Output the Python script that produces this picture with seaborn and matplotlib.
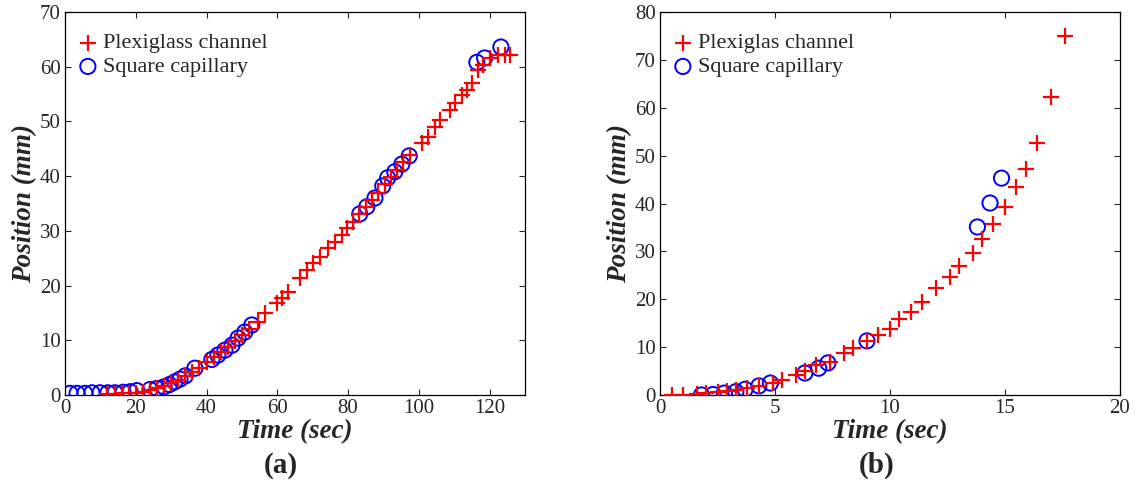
import numpy as np
import pandas as pd
import matplotlib
matplotlib.use("Agg")
import matplotlib.pyplot as plt
import seaborn as sns

# ---- panel (a) data ----
a_plexi_t = [12, 14, 16, 18, 20, 22, 24, 26, 28, 30, 32, 34, 36, 38, 40, 42, 44, 46, 48, 50,
             52, 54.5, 56.5, 60, 61.3, 63, 66.4, 68.4, 70.1, 72, 74.3, 76.3, 78.2, 79.7, 81.4,
             83.2, 85, 86.8, 88.5, 90.3, 92, 93.8, 95.6, 97.5, 100.8, 102.5, 104.5, 105.9,
             108.8, 110.2, 112.1, 113.6, 115, 116.7, 118.1, 120, 122.3, 124.3, 125.7]
a_plexi_y = [0.2, 0.2, 0.3, 0.3, 0.4, 0.6, 0.9, 1.3, 1.7, 2.2, 2.8, 3.4, 4.2, 5.0, 6.0, 6.9, 7.8,
             8.8, 9.8, 11.0, 12.1, 13.3, 15.0, 16.8, 17.7, 18.8, 21.4, 22.9, 24.1, 25.2, 26.9,
             28.0, 29.2, 30.5, 31.6, 33.0, 34.3, 35.6, 37.0, 38.5, 39.8, 41.2, 42.5, 43.9, 46.1,
             47.2, 49.0, 50.3, 52.1, 53.4, 54.8, 55.8, 57.0, 59.4, 60.3, 61.6, 62.2, 62.2, 62.2]
a_cap_t = [1.4, 3.4, 5.6, 7.6, 9.9, 12.1, 14.1, 16.4, 18.4, 20.3, 24, 26, 28, 29.5, 31, 32.5,
           34, 36.7, 41.5, 43.2, 45.2, 47.2, 48.9, 50.8, 52.8,
           83.3, 85.3, 87.6, 89.8, 91.2, 93.2, 95.2, 97.3, 116.4, 118.6, 123.2]
a_cap_y = [0.3, 0.3, 0.3, 0.4, 0.4, 0.4, 0.4, 0.5, 0.6, 0.8, 1.0, 1.2, 1.5, 1.9, 2.4, 2.9,
           3.5, 4.9, 6.5, 7.3, 8.2, 9.1, 10.4, 11.5, 12.8,
           33.1, 34.4, 36.0, 38.2, 39.7, 40.8, 42.2, 43.7, 60.8, 61.6, 63.6]

# ---- panel (b) data ----
b_plexi_t = [0.5, 1.0, 1.6, 2.0, 2.5, 2.9, 3.3, 3.8, 4.3, 4.9, 5.3, 5.9, 6.3, 6.8, 7.4, 8.0,
             8.4, 9.0, 9.5, 10.0, 10.4, 10.9, 11.4, 12.0, 12.6, 13.0, 13.6, 14.0, 14.5, 15.0,
             15.5, 15.9, 16.4, 17.0, 17.6]
b_plexi_y = [0, 0, 0.2, 0.4, 0.6, 0.8, 1.0, 1.5, 1.9, 2.5, 3.1, 4.2, 5.0, 6.3, 6.9, 8.8, 9.8,
             11.3, 12.5, 13.8, 15.8, 17.3, 19.4, 22.3, 24.6, 26.9, 29.6, 32.6, 35.7, 39.3,
             43.4, 47.2, 52.6, 62.2, 75.0]
b_cap_t = [1.8, 2.3, 2.8, 3.3, 3.7, 4.3, 4.8, 6.3, 6.9, 7.3, 9.0, 13.8, 14.35, 14.85]
b_cap_y = [0, 0.1, 0.4, 0.7, 1.2, 1.9, 2.5, 4.6, 5.6, 6.7, 11.3, 35.1, 40.1, 45.3]

sns.set_style("ticks")
plt.rcParams["font.family"] = ["Liberation Serif", "DejaVu Serif"]

fig = plt.figure(figsize=(11.37, 4.82), dpi=100)
ax_a = fig.add_axes([0.0572, 0.1805, 0.4045, 0.7946])
ax_b = fig.add_axes([0.5805, 0.1805, 0.4045, 0.7946])


def draw_panel(ax, pt, py, ct, cy, plexi_name, xlim, ylim, xticks, yticks, tag):
    plexi = pd.DataFrame({"t": pt, "pos": py})
    cap = pd.DataFrame({"t": ct, "pos": cy})
    sns.scatterplot(data=plexi, x="t", y="pos", ax=ax, marker="+", s=120, color="red",
                    linewidth=1.6, label=plexi_name, zorder=3)
    sns.scatterplot(data=cap, x="t", y="pos", ax=ax, marker="o", s=120, facecolors="none",
                    edgecolor="blue", linewidth=1.4, label="Square capillary", zorder=2)
    ax.set_xlim(*xlim)
    ax.set_ylim(*ylim)
    ax.set_xticks(xticks)
    ax.set_yticks(yticks)
    ax.tick_params(direction="in", top=True, right=True, labelsize=15, length=4, width=0.8,
                   pad=3)
    for sp in ax.spines.values():
        sp.set_visible(True)
        sp.set_linewidth(0.9)
        sp.set_color("black")
    ax.set_xlabel("Time (sec)", fontsize=19.5, fontweight="bold", style="italic", labelpad=1)
    ax.set_ylabel("Position (mm)", fontsize=19.5, fontweight="bold", style="italic", labelpad=2)
    ax.legend(loc="upper left", bbox_to_anchor=(-0.018, 0.995), frameon=False, fontsize=16,
              handletextpad=0.15, borderaxespad=0.45, labelspacing=0.15, handlelength=1.1)
    ax.text(0.47, -0.183, tag, transform=ax.transAxes, ha="center", va="center",
            fontsize=21, fontweight="bold")


draw_panel(ax_a, a_plexi_t, a_plexi_y, a_cap_t, a_cap_y, "Plexiglass channel",
           (0, 130), (0, 70), [0, 20, 40, 60, 80, 100, 120], range(0, 71, 10), "(a)")
draw_panel(ax_b, b_plexi_t, b_plexi_y, b_cap_t, b_cap_y, "Plexiglas channel",
           (0, 20), (0, 80), [0, 5, 10, 15, 20], range(0, 81, 10), "(b)")

fig.savefig("out.png", dpi=100)
